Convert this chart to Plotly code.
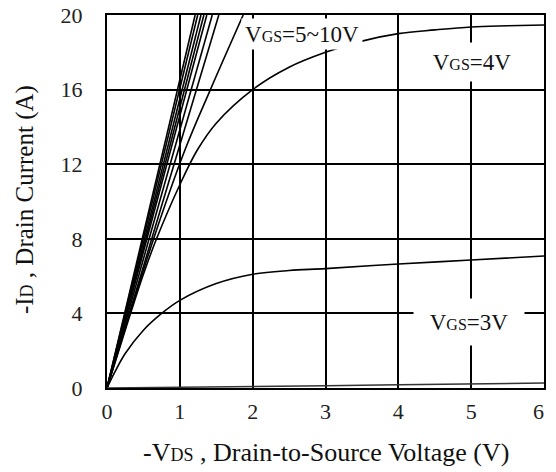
import plotly.graph_objects as go

# Output characteristics: -ID vs -VDS for several gate voltages
# VGS = 5~10V family: near-linear lines, given by the -VDS where -ID reaches 20 A
steep_vds_at_20a = [1.21, 1.245, 1.29, 1.33, 1.37, 1.445, 1.535]
steep_id_end = 20

vgs5_vds = [0, 0.64, 1.07, 1.42, 1.87]
vgs5_id = [0, 8.0, 12.76, 16.0, 20.0]

vgs4_vds = [0, 0.25, 0.5, 0.68, 1.0, 1.24, 1.5, 2.0, 2.5, 3.0, 3.5, 4.0, 4.5, 5.0, 5.5, 6.0]
vgs4_id = [0, 3.1, 6.1, 8.0, 10.9, 12.76, 14.2, 16.0, 17.2, 18.0, 18.6, 19.0, 19.2, 19.36, 19.42, 19.46]

vgs3_vds = [0, 0.1, 0.25, 0.5, 0.75, 1.0, 1.5, 2.0, 2.5, 3.0, 4.0, 5.0, 6.0]
vgs3_id = [0, 0.8, 1.85, 3.1, 4.0, 4.7, 5.6, 6.1, 6.3, 6.4, 6.65, 6.86, 7.08]

vgs2_vds = [0, 1, 2, 3, 4, 5, 6]
vgs2_id = [0, 0.03, 0.07, 0.12, 0.17, 0.22, 0.27]

x_ticks = [0, 1, 2, 3, 4, 5, 6]
x_ticktext = ["0", "1", "2", "3", "4", "5", "6\u00a0\u00a0"]
y_ticks = [0, 4, 8, 12, 16, 20]

W, H = 556, 472
ML, MR, MT, MB = 107, 1, 15, 84
SERIF = "Liberation Serif"
line_style = dict(color="black", width=1.6)

fig = go.Figure()
for v in steep_vds_at_20a:
    fig.add_trace(go.Scatter(x=[0, v], y=[0, steep_id_end], mode="lines", line=line_style))
fig.add_trace(go.Scatter(x=vgs5_vds, y=vgs5_id, mode="lines", line=dict(shape="spline", **line_style)))
fig.add_trace(go.Scatter(x=vgs4_vds, y=vgs4_id, mode="lines", line=dict(shape="spline", **line_style)))
fig.add_trace(go.Scatter(x=vgs3_vds, y=vgs3_id, mode="lines", line=dict(shape="spline", **line_style)))
fig.add_trace(go.Scatter(x=vgs2_vds, y=vgs2_id, mode="lines", line=dict(color="#333", width=1.5)))


def small(s, size=16):
    return "<span style='font-size:%dpx'>%s</span>" % (size, s)


def vgs_label(value):
    return "V" + small("GS") + "=" + value


labels = [
    (vgs_label("5~10V"), 1.845, 19.0, "left", 120, 30),
    (vgs_label("4V"), 5.01, 17.48, "center", 88, 38),
    (vgs_label("3V"), 4.97, 3.54, "center", 110, 46),
]
for text, x, y, anchor, w, h in labels:
    fig.add_annotation(
        x=x, y=y, xref="x", yref="y", text=text, showarrow=False,
        xanchor=anchor, yanchor="middle", bgcolor="white", width=w, height=h,
        borderpad=0, align="center",
        font=dict(family=SERIF, size=23, color="#111"),
    )


def paper_xy(px, py):
    """Convert figure pixel position to paper coordinates."""
    return (px - ML) / (W - ML - MR), 1 - (py - MT) / (H - MT - MB)


# Axis titles
tx, ty = paper_xy(332, 453)
fig.add_annotation(
    x=tx, y=ty, xref="paper", yref="paper",
    text="-V" + small("DS", 18) + " , Drain-to-Source Voltage (V)",
    showarrow=False, xanchor="center", yanchor="middle",
    font=dict(family=SERIF, size=26, color="#111"),
)
tx, ty = paper_xy(23, 200)
fig.add_annotation(
    x=tx, y=ty, xref="paper", yref="paper",
    text="-I" + small("D", 18) + " , Drain Current (A)",
    showarrow=False, xanchor="center", yanchor="middle", textangle=-90,
    font=dict(family=SERIF, size=25, color="#111"),
)

fig.update_layout(
    width=W, height=H,
    margin=dict(l=ML, r=MR, t=MT, b=MB),
    paper_bgcolor="white", plot_bgcolor="white",
    showlegend=False,
)

fig.update_xaxes(
    range=[0, 6], tickvals=x_ticks, ticktext=x_ticktext,
    showgrid=True, gridcolor="black", gridwidth=2,
    showline=True, linecolor="black", linewidth=2, mirror=True,
    zeroline=False, ticks="", ticklabelstandoff=3, ticklabeloverflow="allow",
    tickfont=dict(family=SERIF, size=22, color="#222"),
)
fig.update_yaxes(
    range=[0, 20], tickvals=y_ticks,
    showgrid=True, gridcolor="black", gridwidth=2,
    showline=True, linecolor="black", linewidth=2, mirror=True,
    zeroline=False, ticks="", ticklabelstandoff=18,
    tickfont=dict(family=SERIF, size=22, color="#222"),
)

fig.write_html("out.html")
